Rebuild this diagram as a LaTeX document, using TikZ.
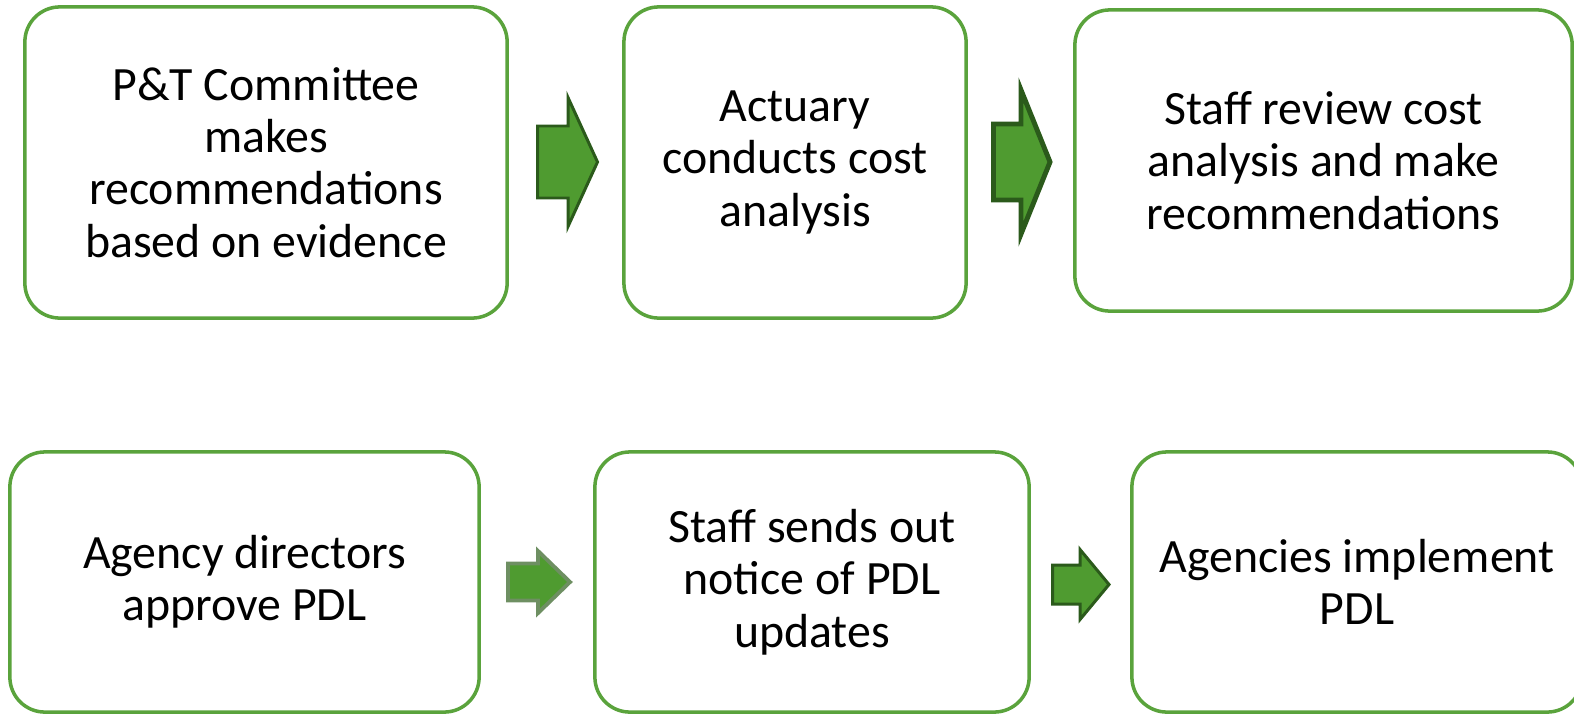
\documentclass[tikz,border=0pt]{standalone}
\usepackage{fontspec}
\setmainfont{Carlito}
\definecolor{boxgreen}{HTML}{5AA33C}
\definecolor{arrowfill}{HTML}{4F9B30}
\definecolor{arrowline}{HTML}{2B5A1B}
\definecolor{fadedline}{HTML}{6E8F62}

% block arrow: tail x, centre y, head base x, tip x, shaft half, head half, style
\newcommand{\blockarrow}[7]{
    \draw[#7] (#1,#2-#5) -- (#3,#2-#5) -- (#3,#2-#6) -- (#4,#2)
        -- (#3,#2+#6) -- (#3,#2+#5) -- (#1,#2+#5) -- cycle;
}

\tikzset{
    stepbox/.style={draw=boxgreen, line width=1pt, rounded corners=0.35cm,
        align=center, inner sep=0pt,
        font=\fontsize{13.6}{14.9}\selectfont},
    fatarrow/.style={fill=arrowfill, draw=arrowline, line width=0.85pt, line join=miter}
}

\begin{document}
\begin{tikzpicture}[x=0.01cm, y=-0.01cm]
    \clip (0,0) rectangle (1574,715);

    % top row
    \node[stepbox, minimum width=4.82cm, minimum height=3.11cm] (committee) at (266,162.5)
        {P\&T Committee\\makes\\recommendations\\based on evidence};
    \node[stepbox, minimum width=3.42cm, minimum height=3.11cm] (actuary) at (795,162.5)
        {Actuary\\conducts cost\\analysis};
    \node[stepbox, minimum width=4.97cm, minimum height=3.01cm] (review) at (1323.5,160.5)
        {Staff review cost\\analysis and make\\recommendations};

    % bottom row
    \node[stepbox, minimum width=4.69cm, minimum height=2.60cm] (directors) at (244.5,582)
        {Agency directors\\approve PDL};
    \node[stepbox, minimum width=4.34cm, minimum height=2.60cm] (notice) at (812,582)
        {Staff sends out\\notice of PDL\\updates};
    \node[stepbox, minimum width=4.50cm, minimum height=2.60cm] (implement) at (1357,582)
        {Agencies implement\\PDL};

    % arrows between the boxes
    \blockarrow{537.5}{162}{568}{597.5}{36}{64.5}{fatarrow}
    \blockarrow{993.5}{162}{1021}{1050}{38}{72}{fatarrow, line width=1.4pt}
    \blockarrow{508}{582}{538}{570}{18.5}{31}{fatarrow, draw=fadedline, line width=1.1pt}
    \blockarrow{1052.5}{584.5}{1080}{1109}{19.5}{35}{fatarrow}
\end{tikzpicture}
\end{document}
